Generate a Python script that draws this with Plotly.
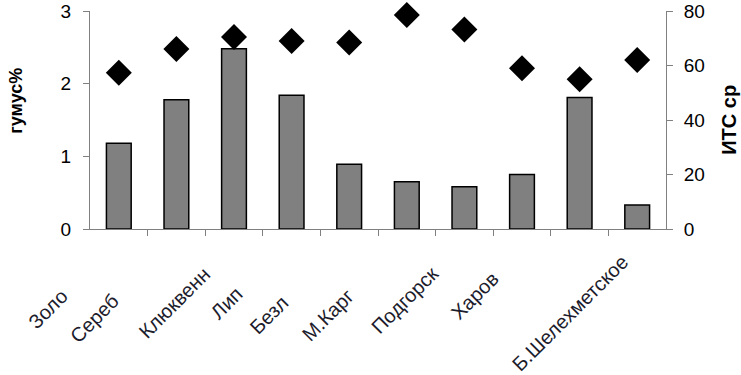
import plotly.graph_objects as go

# ---- data ----
categories = ["Золо", "Сереб", "Клюквенн", "Лип", "Безл", "М.Карг",
              "Подгорск", "Харов", "", "Б.Шелехметское"]
humus = [1.18, 1.78, 2.48, 1.84, 0.89, 0.65, 0.58, 0.75, 1.81, 0.33]
its = [57.3, 66.1, 70.5, 69.0, 68.4, 78.5, 73.2, 59.0, 55.0, 62.0]
left_ticks = [0, 1, 2, 3]
right_ticks = [0, 20, 40, 60, 80]

# label placement offsets (pixels) relative to each category position
label_dx = [-44, -50, -17, -42, -54, -46, -19, -17, 0, -2]
label_dy = [-53, -58, -31, -51, -60, -53, -30, -36, 0, -19]

xs = list(range(len(categories)))
FONT = "Liberation Sans, Arial, sans-serif"

fig = go.Figure()
fig.add_trace(go.Bar(
    x=xs, y=humus, yaxis="y",
    marker=dict(color="#808080", line=dict(color="black", width=1.5)),
    showlegend=False,
))
fig.add_trace(go.Scatter(
    x=xs, y=its, yaxis="y2", mode="markers",
    marker=dict(symbol="diamond", size=20, color="black"),
    cliponaxis=False,
    showlegend=False,
))

annotations = []
for i, lab in enumerate(categories):
    if not lab:
        continue
    annotations.append(dict(
        x=xs[i], y=0, xref="x", yref="paper",
        text=lab, showarrow=False, textangle=-45,
        xanchor="right", yanchor="top",
        xshift=label_dx[i], yshift=label_dy[i],
        font=dict(family=FONT, size=20, color="#1c1c2c"),
    ))
annotations.append(dict(
    x=-0.128, y=0.59, xref="paper", yref="paper",
    text="<b>гумус%</b>", showarrow=False, textangle=-90,
    xanchor="center", yanchor="middle",
    font=dict(family=FONT, size=18, color="black"),
))
annotations.append(dict(
    x=1.109, y=0.5, xref="paper", yref="paper",
    text="<b>ИТС ср</b>", showarrow=False, textangle=-90,
    xanchor="center", yanchor="middle",
    font=dict(family=FONT, size=20, color="black"),
))

fig.update_layout(
    width=741, height=375,
    margin=dict(l=90, r=75, t=11, b=146, autoexpand=False),
    paper_bgcolor="white", plot_bgcolor="white",
    bargap=0.57,
    font=dict(family=FONT, size=18, color="black"),
    xaxis=dict(
        range=[-0.5, len(categories) - 0.5],
        tickvals=[i + 0.5 for i in xs[:-1]],
        showticklabels=False, ticks="outside", ticklen=6,
        tickcolor="#808080", showline=True, linecolor="#808080",
        linewidth=1, showgrid=False, zeroline=False, automargin=False,
    ),
    yaxis=dict(
        range=[0, 3], tickvals=left_ticks, ticks="outside", ticklen=6,
        tickcolor="#808080", showline=True, linecolor="#808080",
        linewidth=1, showgrid=False, zeroline=False, automargin=False,
        ticklabelstandoff=8, tickfont=dict(size=19),
    ),
    yaxis2=dict(
        range=[0, 80], tickvals=right_ticks, overlaying="y", side="right",
        ticks="outside", ticklen=6, tickcolor="#808080", showline=True,
        linecolor="#808080", linewidth=1, showgrid=False, zeroline=False,
        automargin=False, ticklabelstandoff=7, tickfont=dict(size=19),
    ),
    annotations=annotations,
)

fig.write_html(
    "out.html",
    config={"displayModeBar": False},
    post_script="document.body.style.margin='0';document.body.style.padding='0';",
)
